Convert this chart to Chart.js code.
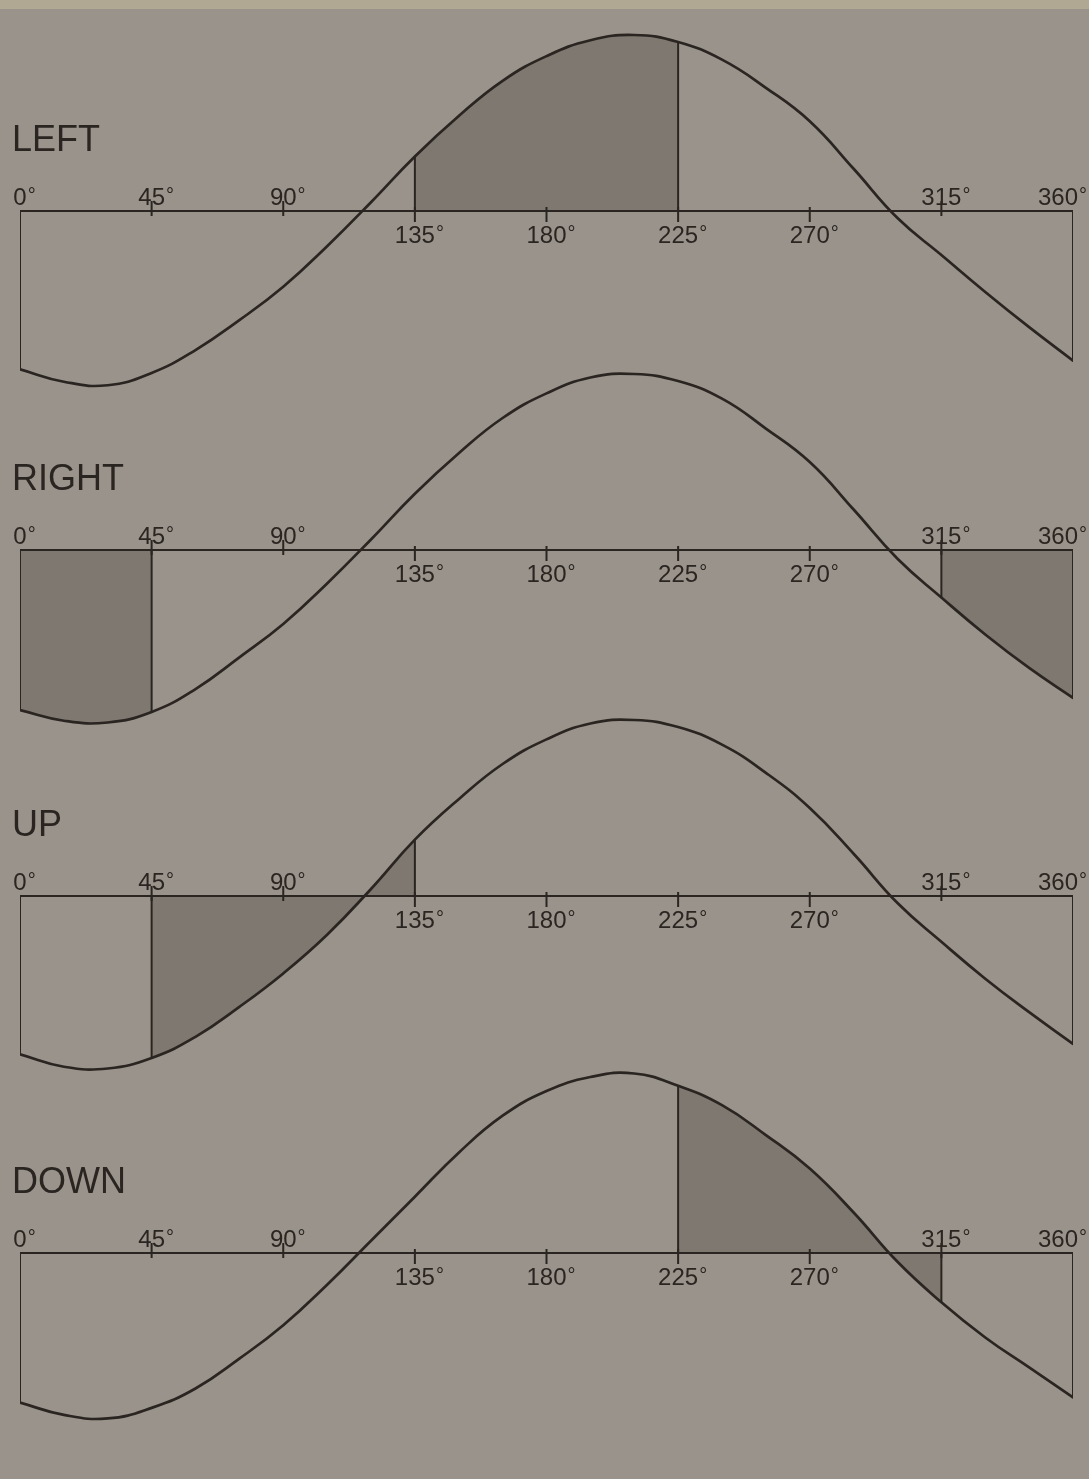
<!DOCTYPE html>
<html>
<head>
<meta charset="utf-8">
<script src="https://cdn.jsdelivr.net/npm/chart.js@4/dist/chart.umd.min.js"></script>
<style>
  html, body { margin: 0; padding: 0; }
  body {
    width: 1089px; height: 1479px; overflow: hidden; position: relative;
    background: #9a938b;
  }
  #band { position: absolute; left: 0; top: 0; width: 1089px; height: 9px; background: #b0a893; }
  canvas.panel { position: absolute; left: 0; width: 1089px; height: 440px; pointer-events: none; }
</style>
</head>
<body>
<div id="band"></div>
<canvas id="p0" class="panel" width="1089" height="440" style="top:-9px"></canvas>
<canvas id="p1" class="panel" width="1089" height="440" style="top:330px"></canvas>
<canvas id="p2" class="panel" width="1089" height="440" style="top:676px"></canvas>
<canvas id="p3" class="panel" width="1089" height="440" style="top:1033px"></canvas>
<script>
// Phase angle of each sample, in degrees
const degrees = [0, 15, 30, 45, 60, 75, 90, 105, 120, 135, 150, 165, 180,
                 195, 210, 225, 240, 255, 270, 285, 300, 315, 330, 345, 360];

// Wave height at each angle (relative to peak amplitude)
const leftWave  = [-0.90, -0.97, -0.99, -0.92, -0.79, -0.62, -0.43, -0.20, 0.05, 0.31, 0.54, 0.74, 0.88,
                    0.97, 1.00, 0.96, 0.86, 0.70, 0.51, 0.24, -0.04, -0.25, -0.46, -0.66, -0.85];
const rightWave = [-0.91, -0.97, -0.98, -0.92, -0.79, -0.61, -0.42, -0.19, 0.06, 0.32, 0.55, 0.75, 0.89,
                    0.98, 1.00, 0.96, 0.86, 0.69, 0.50, 0.23, -0.05, -0.27, -0.48, -0.67, -0.84];
const upWave    = [-0.90, -0.97, -0.98, -0.92, -0.80, -0.63, -0.44, -0.22, 0.04, 0.32, 0.55, 0.75, 0.89,
                    0.98, 1.00, 0.96, 0.86, 0.70, 0.50, 0.24, -0.04, -0.26, -0.47, -0.66, -0.84];
const downWave  = [-0.85, -0.92, -0.94, -0.88, -0.77, -0.60, -0.41, -0.18, 0.07, 0.32, 0.57, 0.78, 0.92,
                    1.00, 1.02, 0.95, 0.84, 0.67, 0.48, 0.23, -0.05, -0.28, -0.48, -0.65, -0.82];

// Axis tick positions (degrees)
const tickDegrees = [0, 45, 90, 135, 180, 225, 270, 315, 360];

// Panel names and the shaded angle ranges of each
const panelTitles = ['LEFT', 'RIGHT', 'UP', 'DOWN'];
const leftShaded  = [[135, 225]];
const rightShaded = [[0, 45], [315, 360]];
const upShaded    = [[45, 135]];
const downShaded  = [[225, 315]];

const INK = '#2a2521';
const SHADE = '#7f7870';
const LABEL_FONT = '"Liberation Sans", Arial, sans-serif';

function valueAt(wave, deg) {
  return wave[degrees.indexOf(deg)];
}

// Draws shading under the curve, ticks, tick labels and the panel name
const waveDecor = {
  id: 'waveDecor',
  beforeDatasetsDraw(chart, args, opts) {
    const ctx = chart.ctx;
    const xs = chart.scales.x, ys = chart.scales.y;
    const y0 = ys.getPixelForValue(0);
    const meta = chart.getDatasetMeta(0);
    const line = meta.dataset;
    if (line.updateControlPoints) line.updateControlPoints(chart.chartArea, 'x');
    for (const [a, b] of opts.shaded) {
      const xa = xs.getPixelForValue(a), xb = xs.getPixelForValue(b);
      ctx.save();
      ctx.beginPath();
      ctx.rect(xa, 0, xb - xa, chart.height);
      ctx.clip();
      ctx.beginPath();
      if (typeof line.path === 'function') {
        line.path(ctx);
      } else {
        meta.data.forEach((p, i) => i ? ctx.lineTo(p.x, p.y) : ctx.moveTo(p.x, p.y));
      }
      ctx.lineTo(xs.getPixelForValue(360), y0);
      ctx.lineTo(xs.getPixelForValue(0), y0);
      ctx.closePath();
      ctx.fillStyle = SHADE;
      ctx.fill();
      ctx.restore();
    }
  },
  afterDatasetsDraw(chart, args, opts) {
    const ctx = chart.ctx;
    const xs = chart.scales.x, ys = chart.scales.y;
    const y0 = ys.getPixelForValue(0);
    ctx.save();
    ctx.strokeStyle = INK;
    ctx.fillStyle = INK;
    ctx.lineWidth = 2;
    ctx.lineCap = 'butt';
    tickDegrees.forEach(d => {
      const x = xs.getPixelForValue(d);
      const above = d <= 90 || d >= 315;
      if (d > 0 && d < 360) {
        ctx.beginPath();
        if (above) { ctx.moveTo(x, y0 + 5); ctx.lineTo(x, y0 - 10); }
        else { ctx.moveTo(x, y0 - 4); ctx.lineTo(x, y0 + 11); }
        ctx.stroke();
      }
      const num = String(d);
      ctx.font = '24px ' + LABEL_FONT;
      const w = ctx.measureText(num).width;
      ctx.font = '20px ' + LABEL_FONT;
      const dw = ctx.measureText('°').width;
      let left = x - w / 2;
      if (left + w + dw > chart.width - 3) left = chart.width - 3 - w - dw;
      const base = above ? y0 - 6 : y0 + 32;
      ctx.textAlign = 'left';
      ctx.textBaseline = 'alphabetic';
      ctx.font = '24px ' + LABEL_FONT;
      ctx.fillText(num, left, base);
      ctx.font = '20px ' + LABEL_FONT;
      ctx.fillText('°', left + w + 1, base - 3);
    });
    ctx.font = '36px ' + LABEL_FONT;
    ctx.fillText(opts.title, 12, y0 - 60);
    ctx.restore();
  }
};

function segment(x1, y1, x2, y2, width) {
  return {
    data: [{ x: x1, y: y1 }, { x: x2, y: y2 }],
    borderColor: INK, borderWidth: width, pointRadius: 0, fill: false, tension: 0
  };
}

function makePanel(id, title, wave, shaded) {
  const curve = degrees.map((d, i) => ({ x: d, y: wave[i] }));
  const datasets = [
    {
      data: curve, borderColor: INK, borderWidth: 2.7, pointRadius: 0, fill: false,
      tension: 0.45, borderCapStyle: 'round', borderJoinStyle: 'round'
    },
    segment(0, 0, 360, 0, 2),
    segment(0, 0, 0, wave[0], 2),
    segment(360, 0, 360, wave[wave.length - 1], 2)
  ];
  shaded.forEach(([a, b]) => {
    if (a > 0 && a < 360) datasets.push(segment(a, 0, a, valueAt(wave, a), 2));
    if (b > 0 && b < 360) datasets.push(segment(b, 0, b, valueAt(wave, b), 2));
  });
  new Chart(document.getElementById(id), {
    type: 'line',
    data: { datasets },
    options: {
      responsive: false,
      animation: false,
      devicePixelRatio: 1,
      layout: { padding: { left: 20, right: 16, top: 0, bottom: 0 } },
      scales: {
        x: { type: 'linear', min: 0, max: 360, display: false },
        y: { type: 'linear', min: -1.25, max: 1.25, display: false }
      },
      plugins: {
        legend: { display: false },
        tooltip: { enabled: false },
        waveDecor: { title, shaded }
      }
    },
    plugins: [waveDecor]
  });
}

makePanel('p0', panelTitles[0], leftWave, leftShaded);
makePanel('p1', panelTitles[1], rightWave, rightShaded);
makePanel('p2', panelTitles[2], upWave, upShaded);
makePanel('p3', panelTitles[3], downWave, downShaded);
</script>
</body>
</html>
